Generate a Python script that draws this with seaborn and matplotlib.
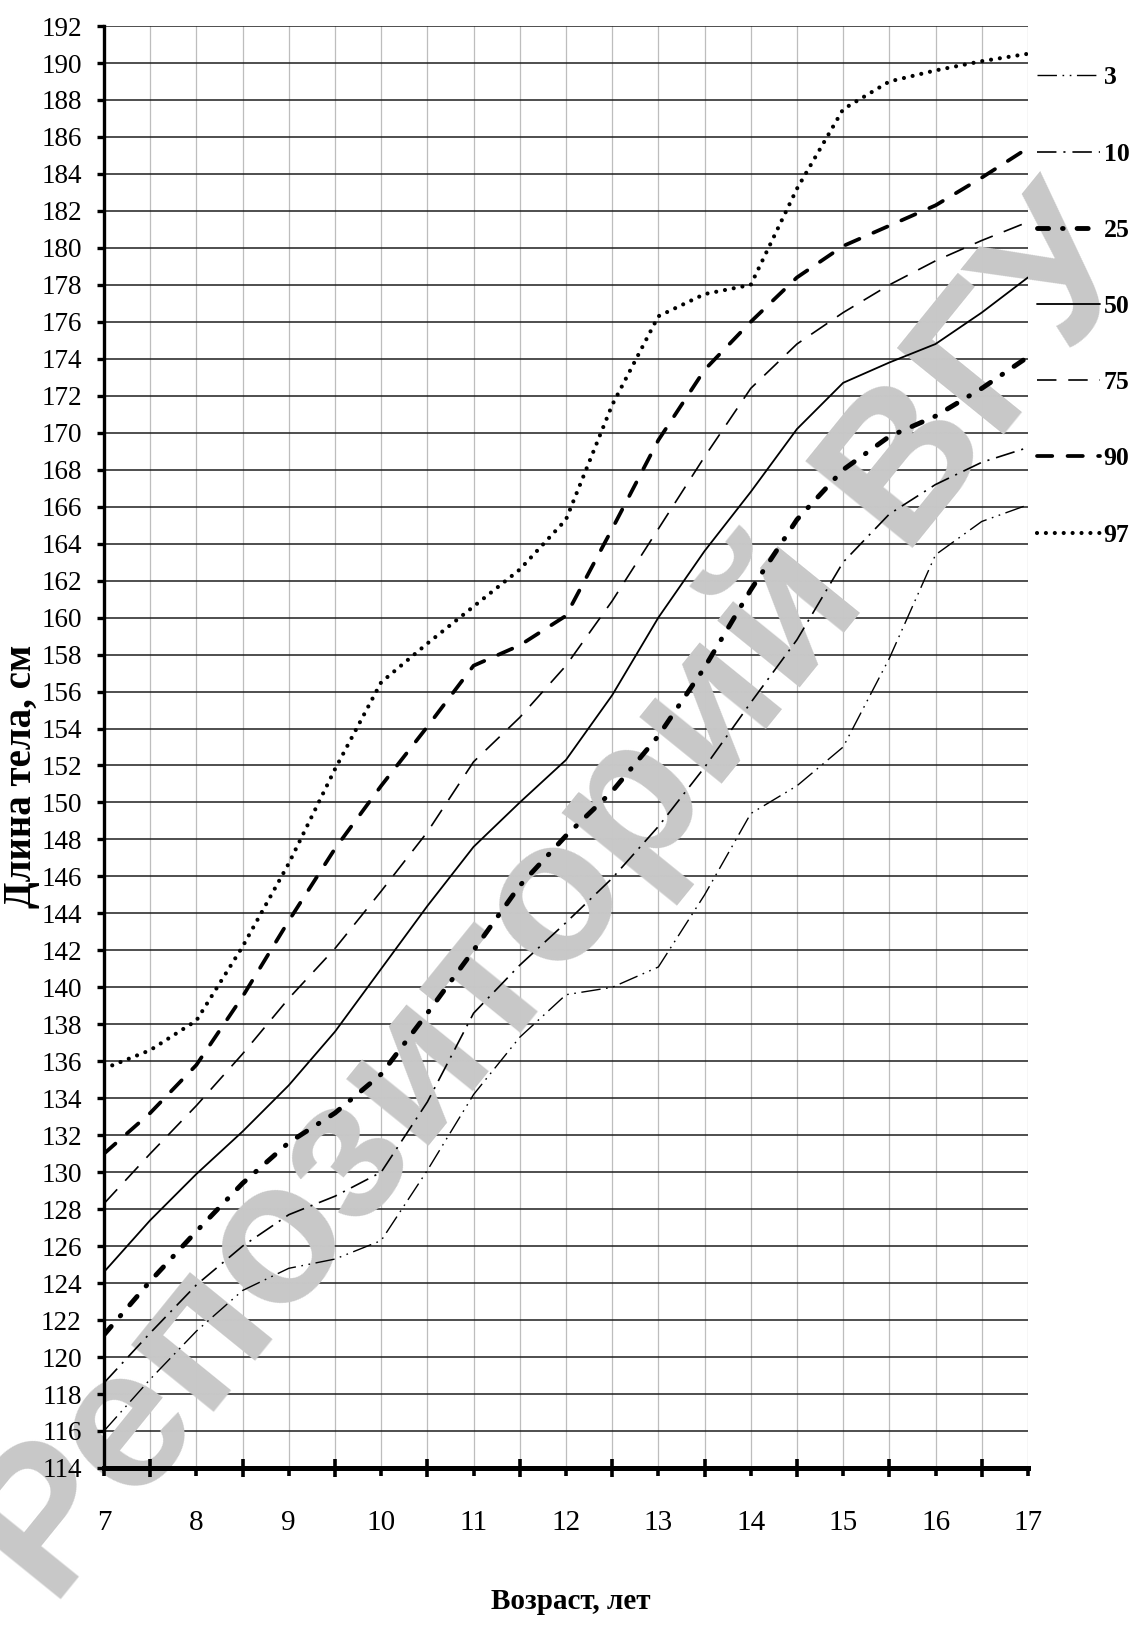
import matplotlib
matplotlib.use("Agg")
import matplotlib.pyplot as plt
import seaborn as sns
from matplotlib.ticker import MultipleLocator, FixedLocator

# Age grid (years) and body length percentiles (cm)
ages = [7.0, 7.5, 8.0, 8.5, 9.0, 9.5, 10.0, 10.5, 11.0, 11.5, 12.0,
        12.5, 13.0, 13.5, 14.0, 14.5, 15.0, 15.5, 16.0, 16.5, 17.0]

p3 = [116.0, 118.8, 121.4, 123.6, 124.8, 125.3, 126.3, 130.1, 134.2, 137.3, 139.6,
      140.0, 141.1, 145.0, 149.4, 150.9, 153.0, 157.8, 163.4, 165.2, 166.1]
p10 = [118.6, 121.3, 123.9, 126.0, 127.7, 128.7, 130.0, 133.8, 138.6, 141.2, 143.5,
       145.9, 148.7, 151.9, 155.4, 158.8, 163.0, 165.6, 167.2, 168.4, 169.2]
p25 = [121.2, 124.1, 126.8, 129.4, 131.6, 133.2, 135.3, 138.6, 142.0, 145.5, 148.2,
       150.6, 153.6, 157.3, 161.5, 165.3, 168.0, 169.8, 170.9, 172.4, 174.1]
p50 = [124.6, 127.4, 129.9, 132.2, 134.7, 137.6, 141.0, 144.4, 147.6, 150.0, 152.3,
       155.8, 160.0, 163.6, 166.8, 170.2, 172.7, 173.8, 174.8, 176.5, 178.4]
p75 = [128.3, 131.0, 133.6, 136.4, 139.4, 142.1, 145.2, 148.4, 152.2, 154.6, 157.4,
       160.9, 164.8, 168.7, 172.4, 174.8, 176.5, 178.0, 179.3, 180.4, 181.4]
p90 = [131.0, 133.2, 135.8, 139.5, 143.6, 147.5, 150.9, 154.1, 157.4, 158.5, 160.1,
       164.8, 169.6, 173.4, 176.0, 178.4, 180.1, 181.2, 182.3, 183.8, 185.4]
p97 = [135.6, 136.6, 138.2, 142.2, 146.7, 151.8, 156.5, 158.6, 160.6, 162.6, 165.3,
       171.5, 176.3, 177.5, 178.0, 183.2, 187.5, 189.0, 189.6, 190.1, 190.5]

percentile_labels = ["3", "10", "25", "50", "75", "90", "97"]
x_tick_labels = ["7", "8", "9", "10", "11", "12", "13", "14", "15", "16", "17"]

sns.set_theme(style="white")
plt.rcParams["font.family"] = ["Liberation Serif", "DejaVu Serif"]
plt.rcParams["lines.scale_dashes"] = False

fig = plt.figure(figsize=(11.4, 16.28), dpi=100)
ax = fig.add_axes([0.0912, 0.0983, 0.8105, 0.8857])

# line styles: (linewidth, linestyle, capstyle)
styles = {
    "3": (1.0, (0, (14, 4, 1.2, 4, 1.2, 4)), "butt"),
    "10": (1.2, (0, (14, 5, 1.5, 5)), "butt"),
    "25": (3.5, (0, (8, 10, 0.5, 10)), "round"),
    "50": (1.3, "-", "butt"),
    "75": (1.2, (0, (14, 8.5)), "butt"),
    "90": (2.7, (0, (11, 11)), "round"),
    "97": (3.0, (0, (0.01, 6.4)), "round"),
}
series = [p3, p10, p25, p50, p75, p90, p97]

handles = []
for lab, vals in zip(percentile_labels, series):
    lw, ls, cap = styles[lab]
    sns.lineplot(x=ages, y=vals, ax=ax, color="black", linewidth=lw,
                 linestyle=ls, dash_capstyle=cap, zorder=3, legend=False)
    handles.append(ax.lines[-1])

ax.set_xlim(7, 17)
ax.set_ylim(114, 192)
ax.xaxis.set_major_locator(FixedLocator(range(7, 18)))
ax.set_xticklabels(x_tick_labels)
ax.xaxis.set_minor_locator(MultipleLocator(0.5))
ax.yaxis.set_major_locator(MultipleLocator(2))

# grid drawn from the tick positions, kept underneath the watermark
ax.grid(False)
ax.set_axisbelow(False)
for yv in ax.get_yticks():
    ax.axhline(yv, color="#1e1e1e", linewidth=1.1, zorder=0.6)
for xv in list(ax.xaxis.get_minorticklocs()) + list(ax.get_xticks()):
    ax.axvline(xv, color="#bdbdbd", linewidth=0.9, zorder=0.55)

for side in ("top", "right"):
    ax.spines[side].set_visible(False)
ax.spines["left"].set_linewidth(2.4)
ax.spines["left"].set_color("black")
ax.spines["bottom"].set_linewidth(3.6)
ax.spines["bottom"].set_color("black")

ax.tick_params(axis="x", which="major", bottom=True, direction="out",
               length=6, width=2.6, pad=24, labelsize=21, colors="black")
ax.tick_params(axis="x", which="minor", bottom=True, direction="inout",
               length=13, width=2.6, colors="black")
ax.tick_params(axis="y", which="major", left=True, direction="out",
               length=5, width=2.4, pad=11, labelsize=19.5, colors="black")

ax.set_xlabel("Возраст, лет", fontsize=21, fontweight="bold", color="black")
ax.xaxis.set_label_coords(0.505, -0.083)
ax.set_ylabel("Длина тела, см", fontsize=28, fontweight="bold", color="black")
ax.yaxis.set_label_coords(-0.069, 0.48)

leg = ax.legend(handles, percentile_labels, loc="upper left",
                bbox_to_anchor=(1.0097, 0.972), frameon=False,
                borderpad=0, borderaxespad=0, handlelength=2.45,
                handletextpad=0.15, labelspacing=2.07,
                prop={"family": "Liberation Serif", "weight": "bold", "size": 18.5})
for t in leg.get_texts():
    t.set_color("black")

# repository watermark across the sheet
ax.text(0.49, 0.447, "Репозиторий ВГУ", transform=fig.transFigure,
        fontsize=145, fontweight="bold", family=["Liberation Sans", "DejaVu Sans"],
        color="#c8c8c8", rotation=51, rotation_mode="anchor",
        ha="center", va="center", zorder=1, clip_on=False)

fig.savefig("out.png", dpi=100)
